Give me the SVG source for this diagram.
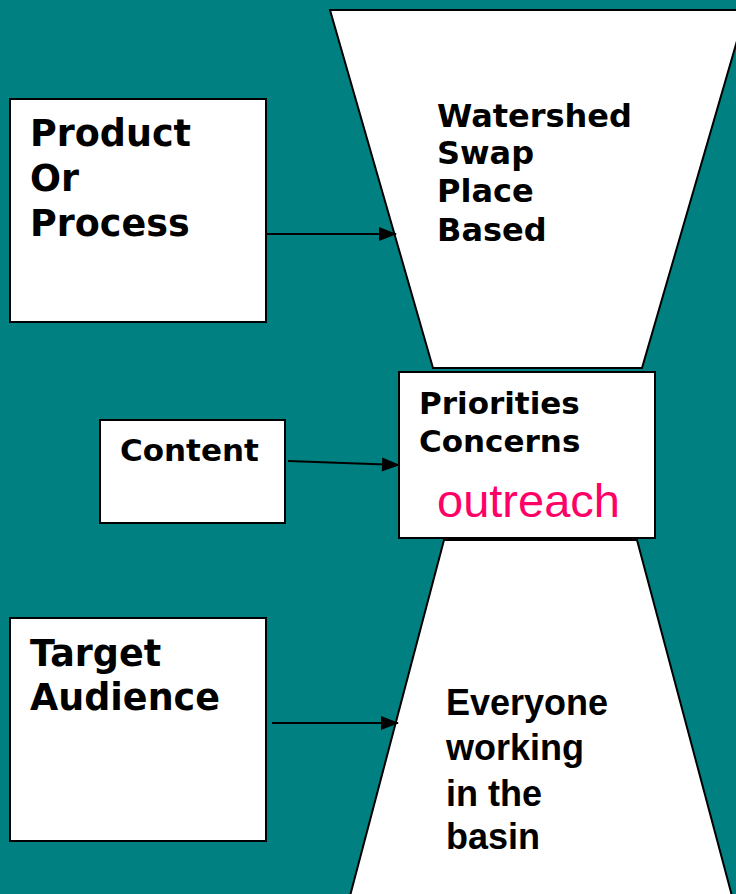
<svg xmlns="http://www.w3.org/2000/svg" width="736" height="894" viewBox="0 0 736 894">
<style>
.shape{fill:#fff;stroke:#000;stroke-width:2}
.v{font-family:"DejaVu Sans",Verdana,sans-serif;font-weight:bold;fill:#000}
.a{font-family:"Liberation Sans",Arial,sans-serif;font-weight:bold;fill:#000}
.conn{stroke:#000;stroke-width:2;fill:none;marker-end:url(#ah)}
</style>
<defs>
<marker id="ah" viewBox="0 0 18 14" refX="17" refY="7" markerWidth="18" markerHeight="14" markerUnits="userSpaceOnUse" orient="auto" overflow="visible">
<path d="M0,0 L18,7 L0,14 z" fill="#000"/>
</marker>
</defs>
<rect x="0" y="0" width="736" height="894" fill="#008080"/>
<g id="top-funnel">
<polygon class="shape" points="330,10 746,10 642,368 433,368"/>
<text class="v" font-size="32" x="437" y="127">Watershed</text>
<text class="v" font-size="32" x="437" y="164">Swap</text>
<text class="v" font-size="32" x="437" y="202">Place</text>
<text class="v" font-size="32" x="437" y="241">Based</text>
</g>
<g id="bottom-funnel">
<polygon class="shape" points="444,540 637,540 732,896 350,896"/>
<text class="a" font-size="36" x="446" y="715">Everyone</text>
<text class="a" font-size="36" x="446" y="760">working</text>
<text class="a" font-size="36" x="446" y="806">in the</text>
<text class="a" font-size="36" x="446" y="849">basin</text>
</g>
<g id="priorities">
<rect class="shape" x="399" y="372" width="256" height="166"/>
<text class="v" font-size="31" x="419" y="414">Priorities</text>
<text class="v" font-size="31" x="419" y="452">Concerns</text>
<text font-family="Liberation Sans,Arial,sans-serif" font-size="46.5" fill="#FF0066" x="437" y="517" textLength="183" lengthAdjust="spacingAndGlyphs">outreach</text>
</g>
<g id="product">
<rect class="shape" x="10" y="99" width="256" height="223"/>
<text class="v" font-size="36.5" x="30" y="146">Product</text>
<text class="v" font-size="36.5" x="30" y="191">Or</text>
<text class="v" font-size="36.5" x="30" y="236">Process</text>
</g>
<g id="content">
<rect class="shape" x="100" y="420" width="185" height="103"/>
<text class="v" font-size="31" x="120" y="461">Content</text>
</g>
<g id="target">
<rect class="shape" x="10" y="618" width="256" height="223"/>
<text class="v" font-size="36.5" x="30" y="666">Target</text>
<text class="v" font-size="36.5" x="30" y="710">Audience</text>
</g>
<g id="connectors">
<line class="conn" x1="266" y1="234" x2="396" y2="234"/>
<line class="conn" x1="288" y1="461" x2="399" y2="465"/>
<line class="conn" x1="272" y1="723" x2="398" y2="723"/>
</g>
</svg>
